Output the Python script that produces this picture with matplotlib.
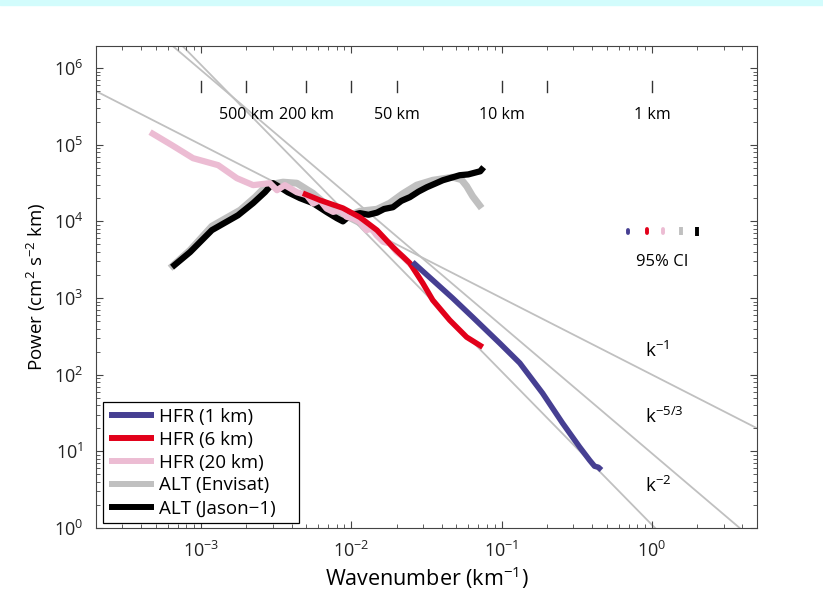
import numpy as np
import matplotlib.pyplot as plt
import matplotlib.transforms as mtransforms
from matplotlib.patches import Rectangle

plt.rcParams['font.family'] = ['Open Sans', 'DejaVu Sans']
plt.rcParams['mathtext.fontset'] = 'custom'
plt.rcParams['mathtext.rm'] = 'Open Sans'
plt.rcParams['mathtext.it'] = 'Open Sans'

# HFR spectra (wavenumber in km^-1, power in cm^2 s^-2 km)
hfr1_k = [2.56e-2, 3.48e-2, 4.72e-2, 6.41e-2, 9.70e-2, 0.132, 0.187, 0.254,
          0.330, 0.384, 0.415, 0.44, 0.461]
hfr1_p = [2.94e3, 1.71e3, 997, 564, 258, 142, 57.5, 23.4, 11.4, 7.7, 6.4, 6.2, 5.7]

hfr6_k = [4.76e-3, 6.18e-3, 8.79e-3, 1.14e-2, 1.48e-2, 1.89e-2, 2.45e-2,
          2.99e-2, 3.48e-2, 4.51e-2, 5.85e-2, 7.48e-2]
hfr6_p = [2.33e4, 1.89e4, 1.49e4, 1.13e4, 7.68e3, 4.61e3, 2.85e3, 1.56e3,
          939, 515, 309, 229]

hfr20_k = [4.58e-4, 6.41e-4, 8.85e-4, 1.30e-3, 1.73e-3, 2.22e-3, 2.87e-3,
           3.20e-3, 3.61e-3, 4.34e-3, 5.04e-3, 5.57e-3, 6.18e-3, 6.84e-3,
           7.57e-3, 8.39e-3, 9.29e-3, 1.03e-2, 1.14e-2, 1.26e-2, 1.36e-2,
           1.47e-2, 1.63e-2, 1.80e-2, 2.00e-2, 2.21e-2, 2.51e-2]
hfr20_p = [1.46e5, 9.85e4, 6.67e4, 5.41e4, 3.66e4, 2.97e4, 3.15e4, 2.55e4,
           2.97e4, 2.40e4, 2.20e4, 1.71e4, 1.89e4, 1.47e4, 1.33e4, 1.40e4,
           1.15e4, 1.09e4, 9.85e3, 7.68e3, 8.07e3, 6.61e3, 5.41e3, 5.15e3,
           4.00e3, 3.44e3, 2.68e3]

# altimeter spectra
env_k = [6.22e-4, 8.45e-4, 1.18e-3, 1.82e-3, 2.29e-3, 2.75e-3, 3.51e-3,
         4.34e-3, 5.55e-3, 6.87e-3, 8.39e-3, 9.77e-3, 1.14e-2, 1.48e-2,
         1.80e-2, 2.2e-2, 2.72e-2, 3.48e-2, 4.72e-2, 5.4e-2, 5.85e-2,
         6.41e-2, 7.36e-2]
env_p = [2.45e3, 4.21e3, 8.65e3, 1.40e4, 2.07e4, 2.97e4, 3.25e4, 3.15e4,
         2.33e4, 1.63e4, 1.24e4, 1.20e4, 1.36e4, 1.44e4, 1.73e4, 2.3e4,
         2.97e4, 3.44e4, 3.77e4, 3.5e4, 2.88e4, 2.13e4, 1.49e4]

jas_k = [6.41e-4, 8.45e-4, 1.18e-3, 1.76e-3, 2.22e-3, 2.66e-3, 3.01e-3,
         3.35e-3, 3.78e-3, 4.55e-3, 5.55e-3, 6.87e-3, 8.01e-3, 8.79e-3,
         9.8e-3, 1.14e-2, 1.3e-2, 1.48e-2, 1.65e-2, 1.89e-2, 2.15e-2,
         2.45e-2, 2.8e-2, 3.18e-2, 3.6e-2, 4.06e-2, 4.6e-2, 5.26e-2,
         6.0e-2, 6.82e-2, 7.2e-2, 7.59e-2]
jas_p = [2.53e3, 3.97e3, 7.68e3, 1.20e4, 1.73e4, 2.40e4, 3.15e4, 2.79e4,
         2.40e4, 2.01e4, 1.73e4, 1.32e4, 1.10e4, 1.0e4, 1.2e4, 1.28e4,
         1.22e4, 1.30e4, 1.45e4, 1.53e4, 1.85e4, 2.07e4, 2.45e4, 2.79e4,
         3.1e4, 3.44e4, 3.7e4, 4.0e4, 4.1e4, 4.38e4, 4.5e4, 5.09e4]

# reference power laws  P = A k^n
law_exp = [-1, -5 / 3, -2]
law_amp = [100, 9.4, 1.1]
law_text = [r'k$^{-1}$', r'k$^{-5/3}$', r'k$^{-2}$']
law_text_p = [205, 28.5, 3.5]

# wavelength scale along the top
lambda_km = [1000, 500, 200, 100, 50, 10, 5, 1]
lambda_lab = {500: '500 km', 200: '200 km', 50: '50 km', 10: '10 km', 1: '1 km'}

# 95% confidence intervals (k position, centre, multiplicative half width)
ci_k = [0.69, 0.92, 1.19, 1.55, 1.98]
ci_fac = [1.047, 1.062, 1.062, 1.127, 1.145]
ci_p = 7.45e3

blue = '#463f92'
red = '#e2001a'
pink = '#ecbcd3'
grey = '#c0c0c0'
colors = [blue, red, pink, grey, 'k']

fig = plt.figure(figsize=(8.23, 6.06), dpi=100)
fig.patches.append(Rectangle((0, 1 - 5 / 606), 1, 5 / 606,
                             transform=fig.transFigure, color='#d2fcfc', zorder=0))
ax = fig.add_axes([96 / 823, 78 / 606, 661 / 823, 482 / 606])
ax.set_xscale('log')
ax.set_yscale('log')
ax.set_xlim(2e-4, 5)
ax.set_ylim(1, 1.94e6)

kk = np.array([2e-4, 5])
for n, a in zip(law_exp, law_amp):
    ax.plot(kk, a * kk ** n, color=grey, lw=1.3, zorder=1)
for t, p in zip(law_text, law_text_p):
    ax.text(0.9, p, t, fontsize=13.5, ha='left', va='center')

ax.plot(env_k, env_p, color=grey, lw=5, solid_capstyle='butt', zorder=2,
        label='ALT (Envisat)')
ax.plot(jas_k, jas_p, color='k', lw=4.5, solid_capstyle='butt', zorder=3,
        label='ALT (Jason\u22121)')
ax.plot(hfr20_k, hfr20_p, color=pink, lw=4.5, solid_capstyle='butt', zorder=4,
        label='HFR (20 km)')
ax.plot(hfr6_k, hfr6_p, color=red, lw=4, solid_capstyle='butt', zorder=5,
        label='HFR (6 km)')
ax.plot(hfr1_k, hfr1_p, color=blue, lw=4, solid_capstyle='butt', zorder=6,
        label='HFR (1 km)')

for x, f, c in zip(ci_k, ci_fac, colors):
    ax.plot([x, x], [ci_p / f, ci_p * f], color=c, lw=2.8,
            solid_capstyle='round' if f < 1.1 else 'butt')
ax.text(1.17, 2.94e3, '95% CI', fontsize=12, ha='center', va='center')

trans = mtransforms.blended_transform_factory(ax.transData, ax.transAxes)
for lam in lambda_km:
    ax.plot([1 / lam, 1 / lam], [0.905, 0.927], color='#333333', lw=1,
            transform=trans)
    if lam in lambda_lab:
        ax.text(1 / lam, 0.857, lambda_lab[lam], transform=trans,
                ha='center', va='center', fontsize=11.6)

for s in ax.spines.values():
    s.set_color('#444444')
ax.tick_params(which='both', direction='in', top=True, right=True,
               colors='#444444', labelcolor='#222222', labelsize=13, pad=9)
ax.tick_params(which='major', length=5)
ax.tick_params(which='minor', length=3)

ax.set_xlabel(r'Wavenumber (km$^{-1}$)', fontsize=15.5, labelpad=3)
ax.set_ylabel(r'Power (cm$^{2}$ s$^{-2}$ km)', fontsize=13.5, labelpad=4)

h, l = ax.get_legend_handles_labels()
order = [4, 3, 2, 0, 1]
leg = ax.legend([h[i] for i in order], [l[i] for i in order], loc='lower left',
                bbox_to_anchor=(0.0106, 0.0104, 196 / 661, 0), mode='expand',
                borderaxespad=0, fontsize=13.5,
                handlelength=2.4, handletextpad=0.27, labelspacing=0.26,
                borderpad=0.3, fancybox=False, edgecolor='k', framealpha=1)
leg.get_frame().set_linewidth(0.9)
for line in leg.get_lines():
    line.set_linewidth(4.3)

plt.savefig('out.png', dpi=100)
